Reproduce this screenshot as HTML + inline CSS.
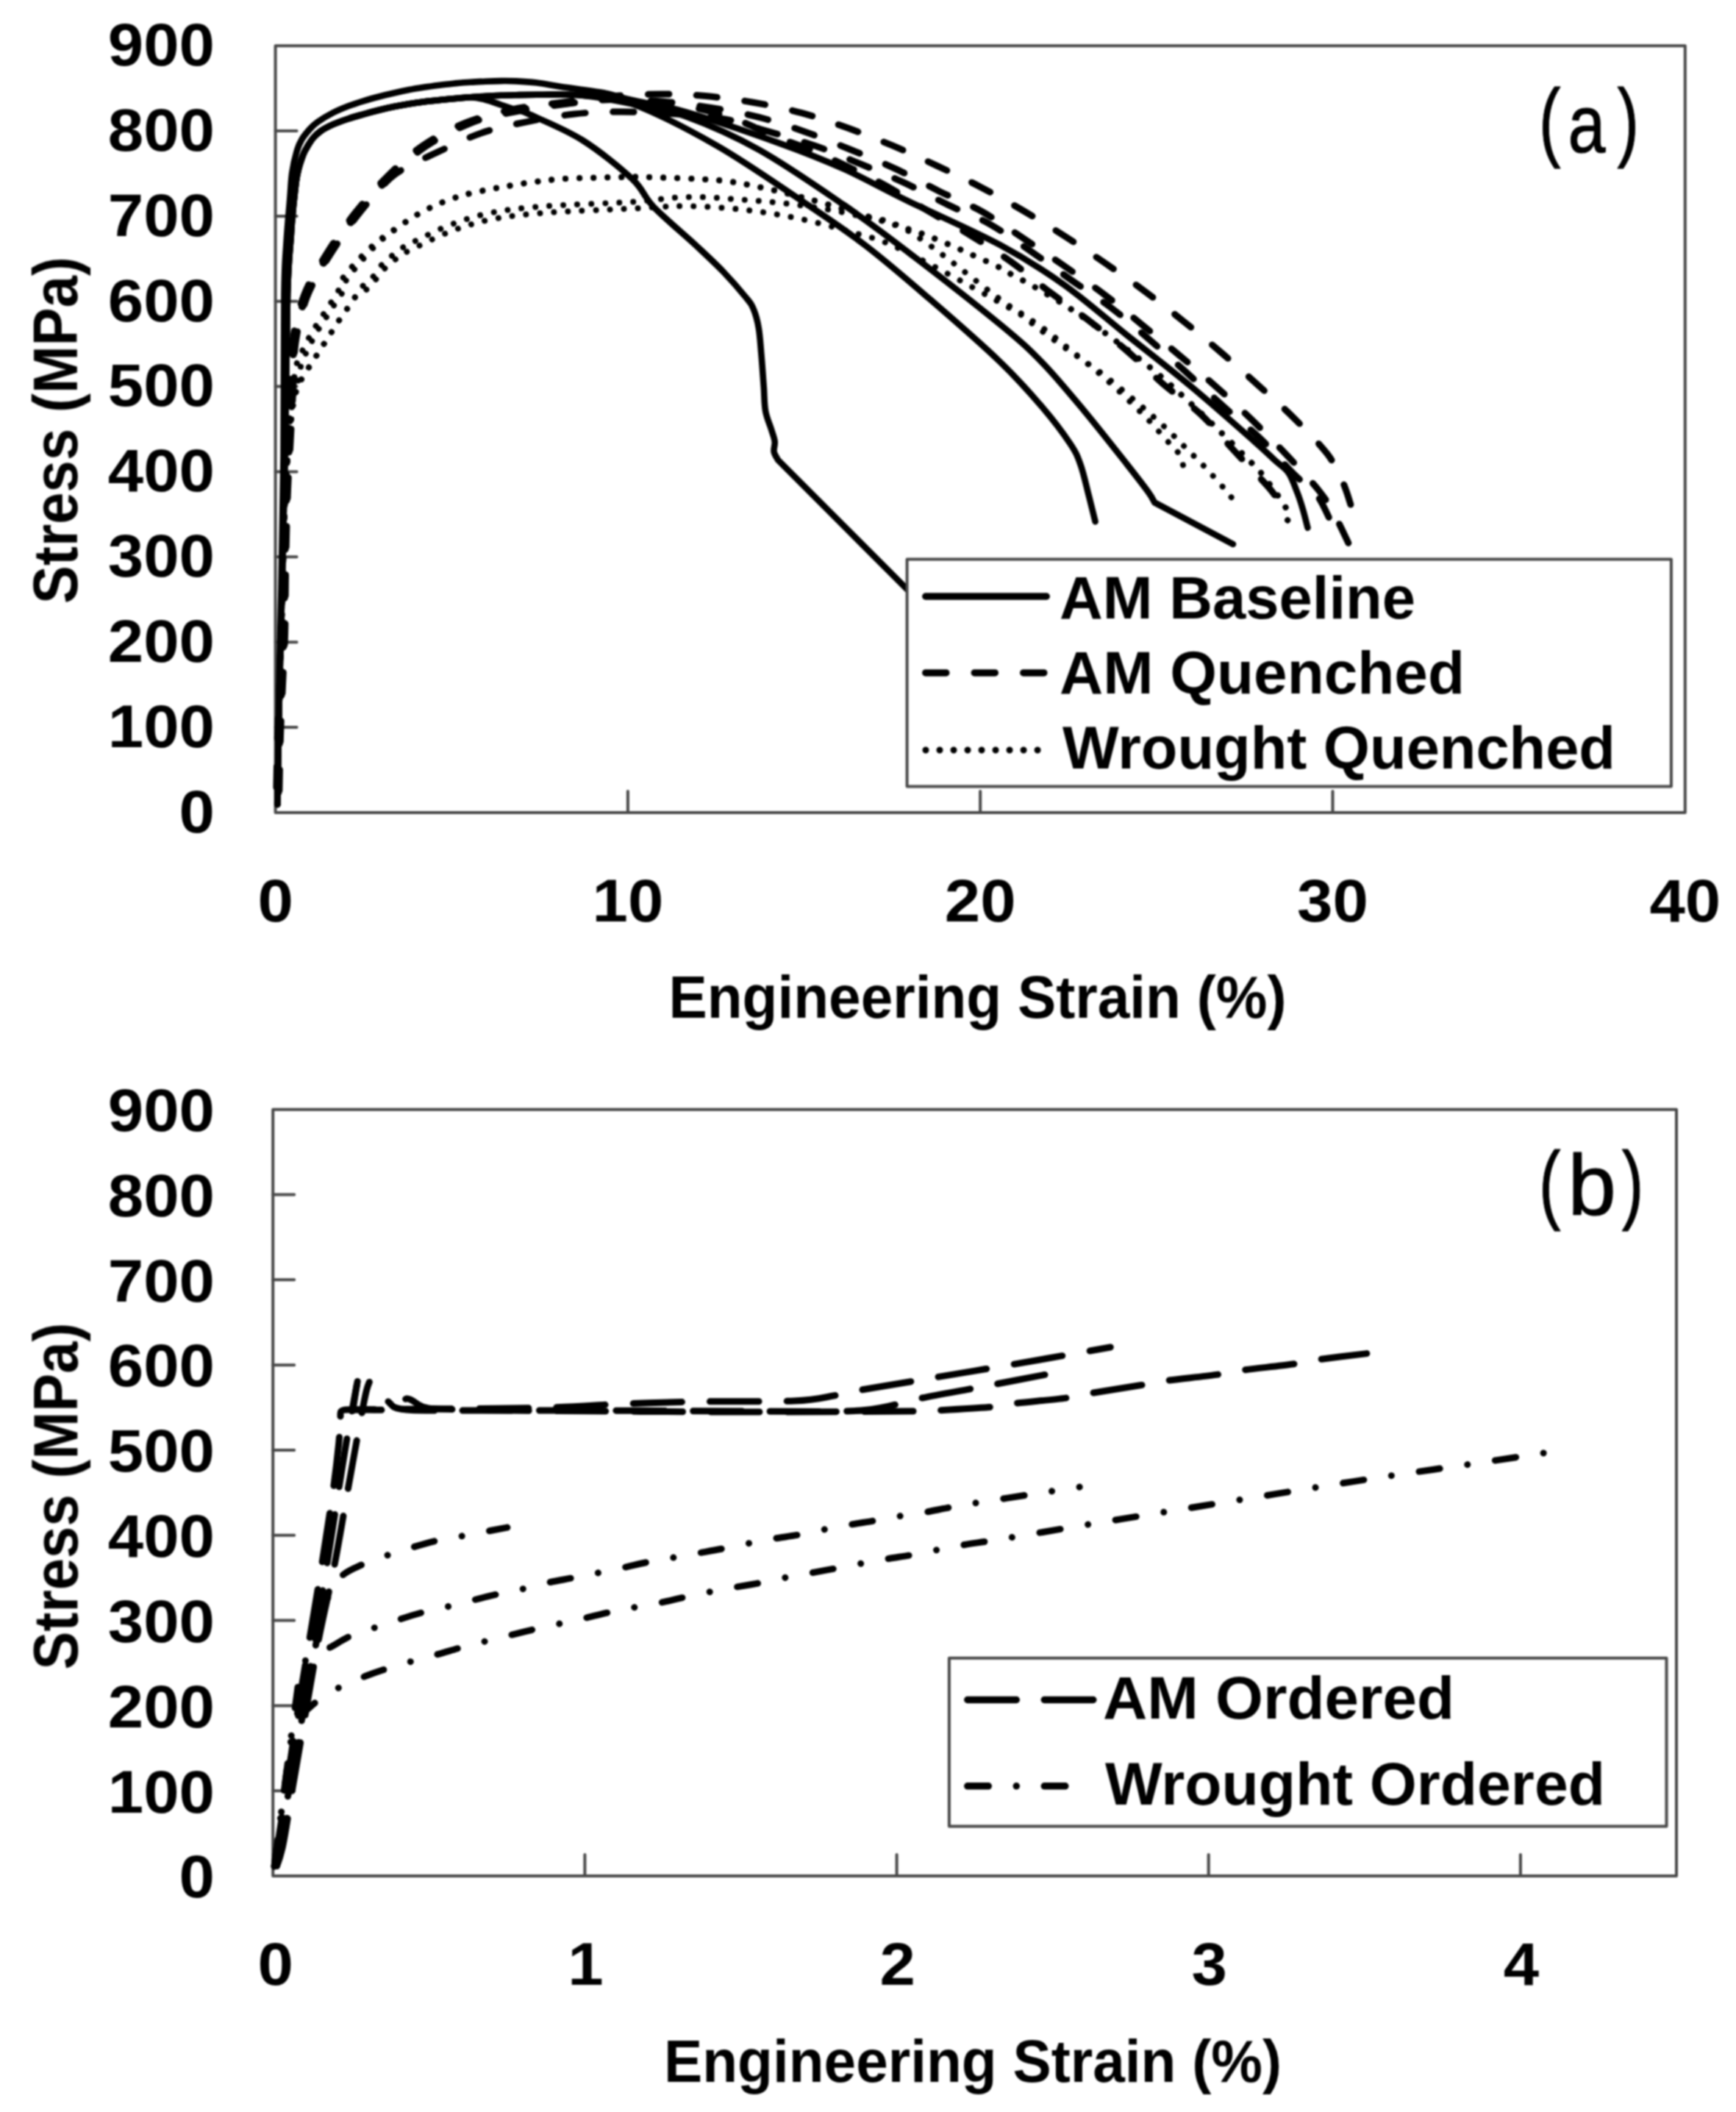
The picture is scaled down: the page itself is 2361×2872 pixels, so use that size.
<!DOCTYPE html>
<html lang="en"><head><meta charset="utf-8"><title>Engineering stress-strain curves</title>
<style>html,body{margin:0;padding:0;background:#fff}body{width:2361px;height:2872px;overflow:hidden}svg{display:block}text{font-family:"Liberation Sans",sans-serif;fill:#000}</style>
</head><body>
<svg width="2361" height="2872" viewBox="0 0 2361 2872">
<rect width="2361" height="2872" fill="#fff"/>
<defs><clipPath id="ca"><rect x="368.6" y="62.2" width="1923.2" height="1042.7"/></clipPath><clipPath id="cb"><rect x="365.2" y="1508.7" width="1914.8" height="1042.4"/></clipPath><filter id="soft" x="0" y="0" width="100%" height="100%" filterUnits="userSpaceOnUse" color-interpolation-filters="sRGB"><feGaussianBlur stdDeviation="0.95"/></filter></defs>
<g filter="url(#soft)">
<g id="chart-a">
<rect x="374.6" y="62.2" width="1917.2" height="1042.7" fill="none" stroke="#484848" stroke-width="4" stroke-linejoin="round"/><path d="M374.6 989.0 h29 M374.6 873.2 h29 M374.6 757.3 h29 M374.6 641.5 h29 M374.6 525.6 h29 M374.6 409.8 h29 M374.6 293.9 h29 M374.6 178.1 h29 M853.9 1104.9 v-29 M1333.2 1104.9 v-29 M1812.5 1104.9 v-29 " fill="none" stroke="#484848" stroke-width="4" stroke-linecap="round"/>
<g clip-path="url(#ca)"><path d="M377.5 1093.0 C377.8 1077.5 378.5 1032.2 379.2 1000.0 C379.9 967.8 380.6 933.3 381.5 900.0 C382.4 866.7 383.6 833.3 384.5 800.0 C385.4 766.7 385.9 730.0 387.0 700.0 C388.1 670.0 389.5 643.3 391.0 620.0 C392.5 596.7 394.3 575.0 396.0 560.0 C397.7 545.0 399.2 537.6 401.0 530.0 C402.8 522.4 405.1 520.1 406.5 514.5 C407.9 508.9 407.8 502.4 409.5 496.5 C411.2 490.6 414.2 484.8 416.8 479.0 C419.4 473.2 422.4 467.3 425.3 461.8 C428.2 456.3 431.2 451.2 434.4 445.9 C437.6 440.6 441.3 435.3 444.7 430.0 C448.1 424.7 451.4 419.4 454.9 414.1 C458.4 408.8 462.8 403.5 465.5 398.0 C468.2 392.5 468.1 386.5 470.9 381.1 C473.7 375.8 478.6 370.7 482.4 365.9 C486.2 361.1 489.8 357.0 493.9 352.3 C498.0 347.6 502.3 342.5 506.9 337.9 C511.5 333.2 511.2 332.1 521.3 324.4 C531.4 316.7 552.6 300.6 567.4 291.9 C582.2 283.2 595.1 277.4 610.0 272.0 C624.9 266.6 633.5 263.9 656.7 259.3 C679.9 254.7 718.2 247.7 749.4 244.6 C780.6 241.5 821.9 241.5 843.9 240.9 C865.9 240.3 859.5 240.2 881.6 240.9 C903.7 241.6 951.4 242.9 976.6 245.2 C1001.8 247.4 1014.3 250.7 1032.8 254.4 C1051.3 258.1 1068.0 262.3 1087.5 267.4 C1107.0 272.5 1128.6 278.7 1150.0 285.0 C1171.4 291.3 1198.8 300.1 1215.7 305.4 C1232.7 310.7 1239.7 312.6 1251.7 316.9 C1263.7 321.2 1275.9 326.4 1287.7 331.3 C1299.5 336.2 1310.8 341.4 1322.3 346.6 C1333.8 351.8 1348.6 358.3 1356.8 362.4 C1365.0 366.4 1363.3 366.4 1371.5 370.9 C1379.7 375.4 1392.4 381.7 1406.1 389.6 C1419.8 397.5 1437.8 408.1 1453.6 418.4 C1469.4 428.7 1483.1 438.3 1501.1 451.5 C1519.1 464.7 1544.3 483.7 1561.6 497.6 C1578.9 511.5 1588.5 520.2 1604.8 535.1 C1621.1 550.0 1643.7 571.5 1659.5 586.9 C1675.3 602.2 1691.0 618.3 1699.9 627.2 C1708.8 636.1 1705.1 630.4 1712.8 640.2 C1720.5 650.0 1739.7 675.4 1746.3 686.2 C1752.9 697.0 1753.0 700.4 1752.3 705.0 C1751.5 709.6 1743.5 712.5 1741.8 714.0" fill="none" stroke="#000" stroke-width="8" stroke-linecap="round" stroke-linejoin="round" stroke-dasharray="0.01 19" stroke-dashoffset="11.9"/><path d="M377.5 1093.0 C377.8 1077.5 378.5 1032.2 379.2 1000.0 C379.9 967.8 380.6 933.3 381.5 900.0 C382.4 866.7 383.6 833.3 384.5 800.0 C385.4 766.7 385.9 730.0 387.0 700.0 C388.1 670.0 389.9 643.3 391.0 620.0 C392.1 596.7 393.1 575.0 393.8 560.0 C394.6 545.0 394.6 537.6 395.6 530.0 C396.6 522.4 398.8 520.1 400.0 514.5 C401.2 508.9 401.3 502.4 403.0 496.5 C404.7 490.6 407.7 484.8 410.3 479.0 C412.9 473.2 415.9 467.3 418.8 461.8 C421.7 456.3 424.7 451.2 427.9 445.9 C431.1 440.6 434.8 435.3 438.2 430.0 C441.6 424.7 444.9 419.4 448.4 414.1 C451.9 408.8 456.3 403.5 459.0 398.0 C461.7 392.5 461.6 386.5 464.4 381.1 C467.2 375.8 471.9 370.7 475.9 365.9 C479.9 361.1 483.8 357.0 488.2 352.3 C492.7 347.6 497.7 342.5 502.8 337.9 C507.9 333.2 507.9 332.1 518.7 324.4 C529.4 316.7 552.2 300.6 567.4 291.9 C582.6 283.2 595.1 277.4 610.0 272.0 C624.9 266.6 633.5 263.9 656.7 259.3 C679.9 254.7 718.2 247.7 749.4 244.6 C780.6 241.5 821.9 241.5 843.9 240.9 C865.9 240.3 859.5 240.2 881.6 240.9 C903.7 241.6 951.4 242.9 976.6 245.2 C1001.8 247.4 1014.3 250.7 1032.8 254.4 C1051.3 258.1 1068.0 262.3 1087.5 267.4 C1107.0 272.5 1128.6 278.7 1150.0 285.0 C1171.4 291.3 1198.8 300.1 1215.7 305.4 C1232.7 310.7 1239.7 312.6 1251.7 316.9 C1263.7 321.2 1275.9 326.4 1287.7 331.3 C1299.5 336.2 1310.8 341.4 1322.3 346.6 C1333.8 351.8 1348.6 358.3 1356.8 362.4 C1365.0 366.4 1363.3 366.4 1371.5 370.9 C1379.7 375.4 1392.4 381.7 1406.1 389.6 C1419.8 397.5 1437.8 408.1 1453.6 418.4 C1469.4 428.7 1483.1 438.3 1501.1 451.5 C1519.1 464.7 1544.3 483.7 1561.6 497.6 C1578.9 511.5 1588.5 520.2 1604.8 535.1 C1621.1 550.0 1643.7 571.5 1659.5 586.9 C1675.3 602.2 1691.0 618.3 1699.9 627.2 C1708.8 636.1 1705.1 630.4 1712.8 640.2 C1720.5 650.0 1739.7 675.4 1746.3 686.2 C1752.9 697.0 1753.0 700.4 1752.3 705.0 C1751.5 709.6 1743.5 712.5 1741.8 714.0" fill="none" stroke="#000" stroke-width="8" stroke-linecap="round" stroke-linejoin="round" stroke-dasharray="0.01 19" stroke-dashoffset="7.9"/><path d="M377.5 1093.0 C377.8 1077.5 378.5 1032.2 379.2 1000.0 C379.9 967.8 380.6 933.3 381.5 900.0 C382.4 866.7 383.6 833.3 384.5 800.0 C385.4 766.7 385.8 730.0 387.0 700.0 C388.2 670.0 389.7 644.2 391.5 620.0 C393.3 595.8 395.9 570.3 398.0 555.0 C400.1 539.7 401.8 534.8 404.0 528.0 C406.2 521.2 408.3 518.8 411.0 514.0 C413.7 509.2 416.9 504.4 420.2 499.3 C423.4 494.2 427.1 488.7 430.5 483.4 C433.9 478.1 437.3 472.8 440.7 467.5 C444.1 462.2 447.5 456.9 450.9 451.6 C454.3 446.3 457.6 440.9 461.1 435.7 C464.6 430.5 468.3 425.5 471.9 420.3 C475.5 415.1 479.0 409.7 482.7 404.4 C486.4 399.1 489.9 392.9 493.9 388.3 C497.9 383.7 502.8 381.4 506.9 376.8 C511.0 372.2 514.1 365.8 518.4 361.0 C522.7 356.2 528.2 351.9 532.8 348.0 C537.4 344.1 541.0 341.0 545.8 337.9 C550.6 334.8 550.3 334.7 561.6 329.3 C572.9 323.9 595.5 312.1 613.5 305.4 C631.5 298.7 648.0 293.2 669.6 289.0 C691.2 284.8 711.3 282.7 743.0 280.3 C774.7 277.9 827.9 276.7 860.0 274.6 C892.1 272.5 910.3 268.4 935.5 267.9 C960.7 267.5 986.1 269.9 1011.2 271.7 C1036.3 273.5 1061.1 275.5 1086.1 278.9 C1111.1 282.3 1136.3 286.1 1161.0 291.9 C1185.7 297.6 1201.3 294.3 1234.4 313.5 C1267.6 332.6 1334.0 388.0 1360.0 406.9 C1386.0 425.8 1379.9 420.1 1390.2 427.1 C1400.6 434.0 1411.6 441.0 1421.9 448.7 C1432.2 456.3 1442.3 465.2 1452.2 473.1 C1462.0 481.1 1471.4 488.3 1481.0 496.2 C1490.6 504.1 1500.2 512.0 1509.8 520.7 C1519.4 529.3 1529.5 539.1 1538.6 548.0 C1547.7 556.9 1555.9 564.8 1564.5 573.9 C1573.1 583.1 1583.9 595.5 1590.4 602.7 C1596.9 609.9 1600.3 612.1 1603.4 617.1 C1606.5 622.2 1608.2 630.3 1609.1 633.0" fill="none" stroke="#000" stroke-width="8" stroke-linecap="round" stroke-linejoin="round" stroke-dasharray="0.01 19" stroke-dashoffset="9.3"/><path d="M377.5 1093.0 C377.8 1077.5 378.5 1032.2 379.2 1000.0 C379.9 967.8 380.6 933.3 381.5 900.0 C382.4 866.7 383.6 833.3 384.5 800.0 C385.4 766.7 385.8 730.0 387.0 700.0 C388.2 670.0 389.7 644.2 391.5 620.0 C393.3 595.8 395.9 570.3 398.0 555.0 C400.1 539.7 401.8 534.8 404.0 528.0 C406.2 521.2 408.3 518.8 411.0 514.0 C413.7 509.2 416.9 504.4 420.2 499.3 C423.4 494.2 427.1 488.7 430.5 483.4 C433.9 478.1 437.3 472.8 440.7 467.5 C444.1 462.2 447.5 456.9 450.9 451.6 C454.3 446.3 457.6 440.9 461.1 435.7 C464.6 430.5 468.3 425.5 471.9 420.3 C475.5 415.1 479.0 408.2 482.7 404.4 C486.4 400.6 489.9 400.4 493.9 397.3 C497.9 394.2 502.8 390.4 506.9 385.8 C511.0 381.2 514.1 374.8 518.4 370.0 C522.7 365.2 528.2 360.9 532.8 357.0 C537.4 353.1 541.0 350.0 545.8 346.9 C550.6 343.8 550.3 343.7 561.6 338.3 C572.9 332.9 595.5 321.1 613.5 314.4 C631.5 307.7 648.0 302.2 669.6 298.0 C691.2 293.8 711.3 291.7 743.0 289.3 C774.7 286.9 828.7 285.1 860.0 283.6 C891.3 282.1 906.2 280.2 930.6 280.3 C955.0 280.5 981.2 282.0 1006.3 284.7 C1031.4 287.3 1056.4 291.1 1081.2 296.2 C1106.0 301.2 1131.1 307.7 1155.2 314.9 C1179.3 322.1 1188.8 321.6 1225.8 339.4 C1262.8 357.1 1346.8 403.8 1377.3 421.3 C1407.8 438.8 1398.4 436.7 1409.0 444.3 C1419.5 452.0 1430.6 460.2 1440.6 467.4 C1450.7 474.6 1459.8 480.8 1469.4 487.5 C1479.0 494.3 1488.4 500.3 1498.2 507.7 C1508.1 515.1 1518.7 524.0 1528.5 532.2 C1538.3 540.3 1547.7 548.3 1557.3 556.7 C1566.9 565.1 1576.7 573.7 1586.1 582.6 C1595.5 591.5 1604.6 601.1 1613.5 609.9 C1622.3 618.8 1630.7 626.7 1639.4 635.9 C1648.0 645.0 1659.1 657.5 1665.3 664.7 C1671.5 671.9 1674.9 676.7 1676.8 679.1" fill="none" stroke="#000" stroke-width="8" stroke-linecap="round" stroke-linejoin="round" stroke-dasharray="0.01 19" stroke-dashoffset="9.3"/><path d="M375.5 1091.7 C375.8 1076.2 376.7 1025.9 377.5 998.7 C378.3 971.5 379.5 952.0 380.5 928.7 C381.5 905.4 383.0 882.0 383.6 858.7 C384.2 835.4 384.1 810.4 384.4 788.7 C384.7 767.0 385.0 749.7 385.5 728.7 C386.0 707.7 386.6 684.4 387.5 662.7 C388.4 641.0 389.8 620.7 391.0 598.7 C392.2 576.7 393.3 553.2 394.5 530.7 C395.7 508.2 394.8 485.3 398.0 463.7 C401.2 442.1 405.9 420.9 413.6 401.1 C421.3 381.3 432.9 363.2 444.4 344.7 C455.9 326.2 468.8 307.4 482.6 289.9 C496.4 272.3 511.7 254.8 527.2 239.4 C542.7 224.0 557.5 209.8 575.4 197.6 C593.3 185.4 614.0 174.7 634.5 166.5 C655.0 158.3 676.7 153.1 698.4 148.5 C720.1 143.9 742.8 142.1 764.7 139.2 C786.6 136.3 807.5 132.9 830.0 131.0 C852.5 129.1 878.4 128.1 900.0 128.0 C921.6 127.9 938.7 128.7 959.4 130.6 C980.1 132.5 1002.4 135.4 1024.2 139.2 C1046.0 143.0 1069.1 147.8 1090.4 153.6 C1111.8 159.4 1131.7 166.4 1152.3 173.8 C1172.9 181.2 1193.9 189.6 1214.3 198.2 C1234.7 206.8 1254.8 216.2 1274.7 225.6 C1294.6 235.0 1314.3 244.2 1333.8 254.4 C1353.3 264.6 1372.7 275.4 1391.7 286.5 C1410.7 297.6 1429.2 309.1 1447.8 321.0 C1466.4 332.9 1484.8 345.3 1503.1 357.9 C1521.4 370.5 1540.0 383.5 1557.9 396.8 C1575.8 410.1 1593.4 423.9 1610.6 437.7 C1627.8 451.5 1644.2 465.1 1661.0 479.5 C1677.8 493.9 1695.0 509.3 1711.4 524.1 C1727.8 538.9 1743.9 552.7 1759.5 568.2 C1775.1 583.7 1793.9 602.6 1805.0 617.1 C1816.1 631.6 1820.4 642.7 1826.0 655.0 C1831.6 667.3 1836.3 684.8 1838.4 690.7" fill="none" stroke="#000" stroke-width="9" stroke-linecap="round" stroke-linejoin="round" stroke-dasharray="28.3 37.6" stroke-dashoffset="44.7"/><path d="M377.5 1093.0 C377.8 1077.5 378.7 1027.2 379.5 1000.0 C380.3 972.8 381.5 953.3 382.5 930.0 C383.5 906.7 385.0 883.3 385.6 860.0 C386.2 836.7 386.1 811.7 386.4 790.0 C386.7 768.3 387.0 751.0 387.5 730.0 C388.0 709.0 388.6 685.7 389.5 664.0 C390.4 642.3 391.8 622.0 393.0 600.0 C394.2 578.0 395.3 554.5 396.5 532.0 C397.7 509.5 396.8 486.6 400.0 465.0 C403.2 443.4 407.9 422.2 415.6 402.4 C423.3 382.6 434.9 364.5 446.4 346.0 C457.9 327.5 470.8 308.8 484.6 291.2 C498.4 273.6 513.7 256.1 529.2 240.7 C544.7 225.3 559.5 211.1 577.4 198.9 C595.3 186.8 616.1 175.6 636.5 167.8 C656.9 160.0 678.6 156.3 700.0 152.0 C721.4 147.7 743.0 144.8 764.7 142.0 C786.4 139.2 807.5 135.7 830.0 135.0 C852.5 134.3 877.2 136.1 900.0 138.0 C922.8 139.9 944.6 142.8 966.6 146.4 C988.6 150.0 1010.6 153.9 1032.1 159.4 C1053.6 164.9 1074.5 172.1 1095.5 179.5 C1116.5 186.9 1137.6 195.6 1158.1 204.0 C1178.6 212.4 1198.7 220.5 1218.6 229.9 C1238.5 239.3 1258.2 250.6 1277.6 260.2 C1297.0 269.8 1316.2 276.9 1335.2 287.5 C1354.2 298.1 1373.1 311.7 1391.7 324.0 C1410.3 336.3 1428.7 348.7 1447.0 361.4 C1465.3 374.1 1484.0 387.0 1501.7 400.3 C1519.4 413.6 1536.0 427.6 1553.0 441.4 C1570.0 455.2 1587.1 469.0 1604.0 483.2 C1620.9 497.4 1637.9 511.7 1654.4 526.4 C1671.0 541.1 1687.3 556.1 1703.3 571.6 C1719.3 587.1 1735.2 603.2 1750.3 619.2 C1765.4 635.2 1783.2 654.0 1794.0 667.5 C1804.8 681.0 1808.2 687.9 1815.0 700.0 C1821.8 712.1 1831.4 733.5 1834.7 740.2" fill="none" stroke="#000" stroke-width="9" stroke-linecap="round" stroke-linejoin="round" stroke-dasharray="28.3 38.1" stroke-dashoffset="53.0"/><path d="M379.5 1094.3 C379.8 1078.8 380.7 1028.5 381.5 1001.3 C382.3 974.1 383.5 954.6 384.5 931.3 C385.5 908.0 387.0 884.6 387.6 861.3 C388.2 838.0 388.1 813.0 388.4 791.3 C388.7 769.6 389.0 752.3 389.5 731.3 C390.0 710.3 390.6 687.0 391.5 665.3 C392.4 643.6 393.8 623.3 395.0 601.3 C396.2 579.3 397.3 555.8 398.5 533.3 C399.7 510.8 398.8 487.9 402.0 466.3 C405.2 444.7 409.9 423.5 417.6 403.7 C425.3 383.9 436.9 365.8 448.4 347.3 C459.9 328.8 472.8 310.1 486.6 292.5 C500.4 274.9 518.6 253.5 531.2 242.0 C543.8 230.5 551.5 229.1 562.0 223.3 C572.5 217.5 578.5 214.5 593.9 207.4 C609.3 200.3 634.2 187.8 654.5 180.9 C674.8 174.0 694.6 170.1 715.7 165.8 C736.8 161.5 759.8 157.3 781.3 155.0 C802.8 152.7 821.9 152.0 845.0 152.0 C868.1 152.0 896.4 153.3 920.0 155.0 C943.6 156.7 967.9 158.8 986.7 162.2 C1005.5 165.6 1012.5 169.2 1032.8 175.2 C1053.1 181.2 1085.6 190.3 1108.4 198.2 C1131.2 206.1 1149.3 214.3 1169.6 222.7 C1189.9 231.1 1210.0 239.3 1230.1 248.7 C1250.2 258.1 1270.7 269.5 1290.0 278.9 C1309.3 288.2 1327.2 294.1 1346.2 304.8 C1365.2 315.5 1385.2 330.2 1403.8 343.0 C1422.4 355.8 1439.9 368.8 1457.9 381.5 C1475.9 394.2 1494.3 405.6 1511.8 419.0 C1529.3 432.4 1545.8 446.8 1563.0 461.6 C1580.2 476.4 1597.9 492.3 1614.9 507.7 C1632.0 523.1 1648.7 538.9 1665.3 553.8 C1681.9 568.7 1699.0 581.8 1714.8 597.0 C1730.6 612.2 1747.5 632.5 1760.0 645.0 C1772.5 657.5 1782.0 662.1 1790.0 672.0 C1798.0 681.9 1804.8 698.8 1807.7 704.2" fill="none" stroke="#000" stroke-width="9" stroke-linecap="round" stroke-linejoin="round" stroke-dasharray="28.3 37.95" stroke-dashoffset="46.8"/><path d="M378.5 1093.7 C378.8 1078.2 379.7 1027.9 380.5 1000.7 C381.3 973.5 382.5 954.0 383.5 930.7 C384.5 907.4 386.0 884.0 386.6 860.7 C387.2 837.4 387.1 812.4 387.4 790.7 C387.7 769.0 388.0 751.7 388.5 730.7 C389.0 709.7 389.6 686.4 390.5 664.7 C391.4 643.0 392.8 622.7 394.0 600.7 C395.2 578.7 396.3 555.2 397.5 532.7 C398.7 510.2 397.8 487.3 401.0 465.7 C404.2 444.1 408.9 422.9 416.6 403.1 C424.3 383.3 435.9 365.2 447.4 346.7 C458.9 328.2 471.8 309.4 485.6 291.9 C499.4 274.3 514.7 256.8 530.2 241.4 C545.7 226.0 560.5 211.8 578.4 199.6 C596.3 187.4 617.5 176.7 637.5 168.5 C657.5 160.3 677.2 155.0 698.4 150.5 C719.6 146.0 742.8 144.0 764.7 141.5 C786.6 139.0 807.5 135.9 830.0 135.5 C852.5 135.1 878.3 136.6 900.0 139.0 C921.7 141.4 941.7 145.5 960.0 150.0 C978.3 154.5 995.0 160.3 1010.0 166.0 C1025.0 171.7 1033.6 177.3 1050.0 184.0 C1066.4 190.7 1090.1 198.3 1108.4 206.0 C1126.7 213.7 1143.8 222.2 1160.0 230.0 C1176.2 237.8 1188.4 243.4 1205.6 253.0 C1222.8 262.6 1244.0 276.2 1263.2 287.5 C1282.4 298.8 1302.0 309.1 1320.8 320.6 C1339.6 332.1 1357.8 343.6 1375.8 356.5 C1393.8 369.4 1411.3 384.8 1429.1 398.2 C1446.9 411.6 1465.4 424.1 1482.4 437.1 C1499.5 450.1 1514.8 461.8 1531.4 476.0 C1548.0 490.2 1564.8 507.5 1581.8 522.1 C1598.8 536.8 1617.5 548.8 1633.6 563.9 C1649.7 579.0 1662.9 596.2 1678.3 612.8 C1693.7 629.3 1715.0 650.7 1725.8 663.2 C1736.6 675.7 1740.1 683.9 1743.0 688.0" fill="none" stroke="#000" stroke-width="9" stroke-linecap="round" stroke-linejoin="round" stroke-dasharray="28.3 37.9" stroke-dashoffset="50.3"/><path d="M377.2 1094.0 C377.6 1070.0 378.4 999.0 379.3 950.0 C380.2 901.0 381.5 855.0 382.5 800.0 C383.5 745.0 384.8 686.7 385.5 620.0 C386.2 553.3 385.8 448.3 386.5 400.0 C387.2 351.7 388.2 351.7 389.5 330.0 C390.8 308.3 393.0 285.8 394.3 270.0 C395.6 254.2 395.7 245.8 397.2 235.2 C398.7 224.5 401.3 213.7 403.5 206.1 C405.7 198.5 407.4 194.7 410.5 189.5 C413.6 184.3 418.2 179.0 421.8 175.0 C425.4 171.0 427.0 169.3 432.2 165.7 C437.4 162.1 446.1 156.9 453.0 153.3 C459.9 149.7 466.8 147.0 473.7 144.3 C480.6 141.6 487.5 139.4 494.4 137.3 C501.3 135.2 508.3 133.3 515.2 131.5 C522.1 129.7 529.0 128.1 535.9 126.5 C542.8 124.9 549.7 123.4 556.6 122.1 C563.5 120.8 570.5 119.7 577.4 118.6 C584.3 117.5 591.2 116.6 598.1 115.7 C605.0 114.8 612.0 114.1 618.9 113.4 C625.8 112.8 632.7 112.2 639.6 111.8 C646.5 111.3 653.4 111.0 660.3 110.7 C667.2 110.4 674.2 110.1 681.1 110.1 C688.0 110.0 693.6 110.0 701.8 110.4 C709.9 110.8 719.8 111.4 730.0 112.6 C740.2 113.8 748.1 115.6 763.2 117.9 C778.4 120.2 804.7 123.2 820.8 126.2 C837.0 129.3 841.5 132.0 860.0 136.3 C878.5 140.6 898.4 142.3 932.0 152.2 C965.6 162.0 1025.6 182.4 1061.6 195.4 C1097.6 208.3 1119.2 217.0 1148.0 229.9 C1176.8 242.9 1199.1 256.0 1234.4 273.1 C1269.8 290.3 1324.7 314.1 1360.0 333.0 C1395.3 351.9 1417.6 366.3 1446.4 386.7 C1475.2 407.2 1504.0 432.8 1532.8 455.9 C1561.6 478.9 1590.4 501.0 1619.2 525.0 C1648.0 549.0 1686.4 583.0 1705.6 599.9 C1724.8 616.8 1726.6 619.2 1734.4 626.4 C1742.2 633.5 1747.3 635.6 1752.3 642.8 C1757.3 650.0 1761.1 661.5 1764.3 669.8 C1767.6 678.0 1769.4 684.2 1771.8 692.2 C1774.2 700.2 1777.4 713.5 1778.5 717.7" fill="none" stroke="#000" stroke-width="8.6" stroke-linecap="round" stroke-linejoin="round"/><path d="M377.4 1094.0 C377.8 1070.0 378.8 999.0 379.8 950.0 C380.8 901.0 382.2 855.0 383.5 800.0 C384.8 745.0 386.2 686.7 387.5 620.0 C388.8 553.3 389.6 450.0 391.0 400.0 C392.4 350.0 394.7 338.0 395.8 320.0 C396.9 302.0 397.1 300.7 397.9 292.0 C398.6 283.3 399.4 275.9 400.3 268.0 C401.2 260.1 402.1 251.2 403.1 244.7 C404.1 238.2 405.1 233.7 406.3 229.0 C407.5 224.3 408.9 220.0 410.2 216.3 C411.4 212.6 412.6 209.7 413.8 207.0 C415.1 204.3 415.7 203.2 417.7 199.9 C419.7 196.7 422.9 191.1 426.0 187.5 C429.1 183.9 431.9 181.2 436.4 178.1 C440.9 175.0 446.8 172.0 453.0 169.2 C459.2 166.4 466.8 163.8 473.7 161.5 C480.6 159.2 487.5 157.3 494.4 155.3 C501.3 153.3 508.3 151.4 515.2 149.7 C522.1 148.0 529.0 146.4 535.9 145.0 C542.8 143.6 549.7 142.3 556.6 141.2 C563.5 140.1 570.5 139.2 577.4 138.3 C584.3 137.4 591.2 136.7 598.1 136.0 C605.0 135.3 612.0 134.6 618.9 134.0 C625.8 133.4 632.7 132.8 639.6 132.3 C646.5 131.8 653.4 131.3 660.3 130.9 C667.2 130.5 674.2 130.1 681.1 129.8 C688.0 129.5 692.9 129.4 701.8 129.2 C710.7 129.0 719.4 128.7 734.4 128.8 C749.4 128.9 771.1 127.6 792.0 129.7 C813.0 131.8 836.7 136.5 860.0 141.2 C883.3 145.9 903.2 147.5 932.0 157.9 C960.8 168.4 996.8 183.8 1032.8 204.0 C1068.8 224.2 1114.4 255.9 1148.0 278.9 C1181.6 301.9 1199.1 315.2 1234.4 342.3 C1269.8 369.3 1329.5 415.8 1360.0 441.0 C1390.5 466.2 1398.4 473.5 1417.6 493.3 C1436.8 513.1 1456.0 536.5 1475.2 559.5 C1494.4 582.6 1518.4 613.3 1532.8 631.5 C1547.2 649.8 1555.4 660.3 1561.6 669.0 C1567.9 677.6 1568.8 681.0 1570.3 683.4 L1677.0 740.0" fill="none" stroke="#000" stroke-width="8.6" stroke-linecap="round" stroke-linejoin="round"/><path d="M377.4 1094.0 C377.8 1070.0 378.8 999.0 379.8 950.0 C380.8 901.0 382.2 855.0 383.5 800.0 C384.8 745.0 386.2 686.7 387.5 620.0 C388.8 553.3 389.6 450.0 391.0 400.0 C392.4 350.0 394.7 338.0 395.8 320.0 C396.9 302.0 397.1 300.7 397.9 292.0 C398.6 283.3 399.4 275.9 400.3 268.0 C401.2 260.1 402.1 251.2 403.1 244.7 C404.1 238.2 405.1 233.7 406.3 229.0 C407.5 224.3 408.9 220.0 410.2 216.3 C411.4 212.6 412.6 209.7 413.8 207.0 C415.1 204.3 415.7 203.2 417.7 199.9 C419.7 196.7 422.9 191.1 426.0 187.5 C429.1 183.9 431.9 181.2 436.4 178.1 C440.9 175.0 446.8 172.0 453.0 169.2 C459.2 166.4 466.8 163.8 473.7 161.5 C480.6 159.2 487.5 157.3 494.4 155.3 C501.3 153.3 508.3 151.4 515.2 149.7 C522.1 148.0 529.0 146.4 535.9 145.0 C542.8 143.6 549.7 142.3 556.6 141.2 C563.5 140.1 570.5 139.2 577.4 138.3 C584.3 137.4 591.2 136.7 598.1 136.0 C605.0 135.3 612.0 134.6 618.9 134.0 C625.8 133.4 632.7 132.8 639.6 132.3 C646.5 131.8 653.4 131.3 660.3 130.9 C667.2 130.5 674.2 130.1 681.1 129.8 C688.0 129.5 692.9 129.4 701.8 129.2 C710.7 129.0 719.4 128.7 734.4 128.8 C749.4 128.9 771.1 127.6 792.0 129.7 C813.0 131.8 829.5 129.8 860.0 141.2 C890.5 152.6 936.8 176.3 975.2 198.2 C1013.6 220.2 1056.8 250.6 1090.4 273.1 C1124.0 295.7 1148.0 311.5 1176.8 333.6 C1205.6 355.7 1232.7 379.2 1263.2 405.6 C1293.8 432.0 1334.3 467.3 1360.0 492.0 C1385.7 516.7 1401.8 535.3 1417.6 553.8 C1433.4 572.2 1446.4 589.8 1455.0 602.7 C1463.7 615.7 1465.1 619.5 1469.4 631.5 C1473.8 643.5 1477.6 661.8 1481.0 674.7 C1484.3 687.7 1488.2 703.5 1489.6 709.3" fill="none" stroke="#000" stroke-width="8.6" stroke-linecap="round" stroke-linejoin="round"/><path d="M377.4 1094.0 C377.8 1070.0 378.8 999.0 379.8 950.0 C380.8 901.0 382.2 855.0 383.5 800.0 C384.8 745.0 386.2 686.7 387.5 620.0 C388.8 553.3 389.6 450.0 391.0 400.0 C392.4 350.0 394.7 338.0 395.8 320.0 C396.9 302.0 397.1 300.7 397.9 292.0 C398.6 283.3 399.4 275.9 400.3 268.0 C401.2 260.1 402.1 251.2 403.1 244.7 C404.1 238.2 405.1 233.7 406.3 229.0 C407.5 224.3 408.9 220.0 410.2 216.3 C411.4 212.6 412.6 209.7 413.8 207.0 C415.1 204.3 415.7 203.2 417.7 199.9 C419.7 196.7 422.9 191.1 426.0 187.5 C429.1 183.9 431.9 181.2 436.4 178.1 C440.9 175.0 446.8 172.0 453.0 169.2 C459.2 166.4 466.8 163.8 473.7 161.5 C480.6 159.2 487.5 157.3 494.4 155.3 C501.3 153.3 508.3 151.4 515.2 149.7 C522.1 148.0 529.0 146.4 535.9 145.0 C542.8 143.6 549.7 142.3 556.6 141.2 C563.5 140.1 570.5 139.2 577.4 138.3 C584.3 137.4 591.2 136.7 598.1 136.0 C605.0 135.3 612.0 134.6 618.9 134.0 C625.8 133.4 632.8 132.1 639.6 132.3 C646.5 132.6 653.1 133.8 660.0 135.5 C666.9 137.2 674.0 140.2 681.0 142.5 C688.0 144.8 695.3 147.3 701.8 149.5 C708.3 151.7 705.0 148.7 720.0 155.5 C735.0 162.3 768.7 175.8 792.0 190.5 C815.3 205.2 843.9 228.4 860.0 243.5 C876.1 258.6 874.4 266.2 888.8 281.2 C903.2 296.2 930.6 318.9 946.4 333.6 C962.2 348.4 972.5 357.8 983.8 369.6 C995.2 381.5 1007.7 396.1 1014.6 404.6 C1021.4 413.1 1022.1 413.8 1024.9 420.7 C1027.8 427.6 1030.1 436.1 1031.8 446.1 C1033.6 456.1 1034.1 467.2 1035.3 480.6 C1036.5 494.1 1037.8 513.7 1038.8 526.7 C1039.7 539.8 1039.3 549.4 1041.1 559.0 C1042.8 568.6 1047.0 577.4 1049.1 584.3 C1051.2 591.2 1053.2 595.5 1053.7 600.5 C1054.3 605.5 1051.8 610.1 1052.6 614.3 C1053.3 618.5 1057.4 623.9 1058.3 625.8 C1087.3 654.8 1198.7 766.3 1232.3 800.0 C1265.9 833.7 1255.4 823.3 1260.0 828.0" fill="none" stroke="#000" stroke-width="8.6" stroke-linecap="round" stroke-linejoin="round"/></g>
<rect x="1233.6" y="760.5" width="1039.3" height="309.1" fill="#fff" stroke="#484848" stroke-width="4" stroke-linejoin="round"/><path d="M1258.8 811 H1423.2" stroke="#000" stroke-width="9.5" stroke-linecap="round" fill="none"/><path d="M1258.8 914.9 H1423.2" stroke="#000" stroke-width="9.5" stroke-linecap="round" fill="none" stroke-dasharray="28 38.5"/><path d="M1259 1020 H1411.3" stroke="#000" stroke-width="9" stroke-linecap="round" fill="none" stroke-dasharray="0.01 19"/><text x="1441.0" y="840.5" font-size="81.4" text-anchor="start" font-weight="bold" textLength="484.0" lengthAdjust="spacingAndGlyphs" >AM Baseline</text><text x="1441.0" y="942.5" font-size="81.4" text-anchor="start" font-weight="bold" textLength="551.0" lengthAdjust="spacingAndGlyphs" >AM Quenched</text><text x="1445.0" y="1044.5" font-size="81.4" text-anchor="start" font-weight="bold" textLength="752.0" lengthAdjust="spacingAndGlyphs" >Wrought Quenched</text>
<text x="292.0" y="1131.6" font-size="81.4" text-anchor="end" font-weight="bold" textLength="48.4" lengthAdjust="spacingAndGlyphs" >0</text><text x="292.0" y="1015.7" font-size="81.4" text-anchor="end" font-weight="bold" textLength="145.2" lengthAdjust="spacingAndGlyphs" >100</text><text x="292.0" y="899.9" font-size="81.4" text-anchor="end" font-weight="bold" textLength="145.2" lengthAdjust="spacingAndGlyphs" >200</text><text x="292.0" y="784.0" font-size="81.4" text-anchor="end" font-weight="bold" textLength="145.2" lengthAdjust="spacingAndGlyphs" >300</text><text x="292.0" y="668.2" font-size="81.4" text-anchor="end" font-weight="bold" textLength="145.2" lengthAdjust="spacingAndGlyphs" >400</text><text x="292.0" y="552.3" font-size="81.4" text-anchor="end" font-weight="bold" textLength="145.2" lengthAdjust="spacingAndGlyphs" >500</text><text x="292.0" y="436.5" font-size="81.4" text-anchor="end" font-weight="bold" textLength="145.2" lengthAdjust="spacingAndGlyphs" >600</text><text x="292.0" y="320.6" font-size="81.4" text-anchor="end" font-weight="bold" textLength="145.2" lengthAdjust="spacingAndGlyphs" >700</text><text x="292.0" y="204.8" font-size="81.4" text-anchor="end" font-weight="bold" textLength="145.2" lengthAdjust="spacingAndGlyphs" >800</text><text x="292.0" y="88.9" font-size="81.4" text-anchor="end" font-weight="bold" textLength="145.2" lengthAdjust="spacingAndGlyphs" >900</text><text x="374.6" y="1252.5" font-size="81.4" text-anchor="middle" font-weight="bold" textLength="48.4" lengthAdjust="spacingAndGlyphs" >0</text><text x="853.9" y="1252.5" font-size="81.4" text-anchor="middle" font-weight="bold" textLength="96.8" lengthAdjust="spacingAndGlyphs" >10</text><text x="1333.2" y="1252.5" font-size="81.4" text-anchor="middle" font-weight="bold" textLength="96.8" lengthAdjust="spacingAndGlyphs" >20</text><text x="1812.5" y="1252.5" font-size="81.4" text-anchor="middle" font-weight="bold" textLength="96.8" lengthAdjust="spacingAndGlyphs" >30</text><text x="2291.8" y="1252.5" font-size="81.4" text-anchor="middle" font-weight="bold" textLength="96.8" lengthAdjust="spacingAndGlyphs" >40</text><text x="909.5" y="1384.3" font-size="81.4" text-anchor="start" font-weight="bold" textLength="840.0" lengthAdjust="spacingAndGlyphs" >Engineering Strain (%)</text><text x="104.8" y="821.0" font-size="84.6" text-anchor="start" font-weight="bold" textLength="472.0" lengthAdjust="spacingAndGlyphs" transform="rotate(-90 104.8 821.0)" >Stress (MPa)</text>
<text font-weight="normal" stroke="#000" stroke-width="1.2" stroke-linejoin="round"><tspan x="2092.9" y="203.8" font-size="119.4" textLength="29.5" lengthAdjust="spacingAndGlyphs">(</tspan><tspan x="2132.5" y="206.7" font-size="112.2" textLength="50.9" lengthAdjust="spacingAndGlyphs">a</tspan><tspan x="2199.5" y="203.8" font-size="119.4" textLength="29.5" lengthAdjust="spacingAndGlyphs">)</tspan></text>
</g>
<g id="chart-b">
<rect x="371.2" y="1508.7" width="1908.8" height="1042.4" fill="none" stroke="#484848" stroke-width="4" stroke-linejoin="round"/><path d="M371.2 2435.3 h29 M371.2 2319.5 h29 M371.2 2203.6 h29 M371.2 2087.8 h29 M371.2 1972.0 h29 M371.2 1856.2 h29 M371.2 1740.3 h29 M371.2 1624.5 h29 M795.4 2551.1 v-29 M1219.6 2551.1 v-29 M1643.7 2551.1 v-29 M2067.9 2551.1 v-29 " fill="none" stroke="#484848" stroke-width="4" stroke-linecap="round"/>
<g clip-path="url(#cb)"><path d="M373.0 2538.0 C376.2 2521.7 385.5 2474.7 392.0 2440.0 C398.5 2405.3 405.3 2365.8 412.0 2330.0 C418.7 2294.2 426.2 2251.7 432.0 2225.0 C437.8 2198.3 441.5 2183.7 447.0 2170.0 C452.5 2156.3 457.4 2149.9 465.2 2142.7 C473.0 2135.5 483.7 2131.7 494.0 2127.0 C504.3 2122.3 515.8 2118.7 527.1 2114.8 C538.4 2111.0 550.7 2107.2 561.7 2103.9 C572.8 2100.6 582.4 2097.7 593.4 2095.2 C604.4 2092.7 616.4 2091.1 627.9 2088.9 C639.4 2086.8 652.2 2084.3 662.5 2082.3 C672.8 2080.3 685.3 2078.0 689.9 2077.1" fill="none" stroke="#000" stroke-width="9" stroke-linecap="round" stroke-linejoin="round" stroke-dasharray="28.5 38 0.01 38" stroke-dashoffset="7.6"/><path d="M373.0 2538.0 C375.6 2517.8 384.0 2453.8 388.8 2417.0 C393.6 2380.2 398.5 2341.8 402.0 2317.0 C405.5 2292.2 406.3 2278.8 410.0 2268.0 C413.7 2257.2 417.7 2256.6 424.0 2252.0 C430.3 2247.4 439.1 2245.2 447.9 2240.7 C456.7 2236.2 466.4 2229.4 476.7 2224.8 C487.0 2220.2 498.6 2217.1 509.9 2213.3 C521.2 2209.5 533.4 2205.3 544.4 2201.8 C555.4 2198.3 565.1 2195.2 576.1 2192.3 C587.1 2189.4 598.8 2187.2 610.1 2184.5 C621.4 2181.8 632.7 2178.7 643.8 2175.9 C654.9 2173.1 665.6 2170.4 676.9 2167.8 C688.2 2165.2 700.0 2163.2 711.5 2160.6 C723.0 2158.0 734.7 2154.5 746.0 2152.0 C757.3 2149.5 768.0 2147.8 779.1 2145.6 C790.2 2143.4 801.0 2141.4 812.8 2139.0 C824.6 2136.6 839.0 2133.6 850.0 2131.2 C861.0 2128.8 867.8 2126.9 878.8 2124.7 C889.8 2122.5 903.7 2120.2 915.7 2118.1 C927.7 2115.9 939.7 2113.8 950.8 2111.8 C961.9 2109.8 971.3 2108.2 982.5 2106.0 C993.7 2103.8 1006.1 2101.1 1017.9 2098.8 C1029.7 2096.5 1041.9 2094.1 1053.0 2092.2 C1064.1 2090.3 1073.5 2089.3 1084.7 2087.3 C1095.9 2085.3 1108.1 2082.4 1119.9 2080.1 C1131.7 2077.8 1144.1 2075.5 1155.3 2073.5 C1166.5 2071.5 1175.8 2070.2 1187.0 2068.3 C1198.2 2066.4 1210.4 2063.9 1222.4 2061.9 C1234.4 2059.9 1247.9 2058.1 1259.0 2056.2 C1270.1 2054.3 1278.2 2052.4 1289.2 2050.4 C1300.2 2048.4 1306.7 2047.1 1325.2 2044.1 C1343.7 2041.1 1376.2 2036.2 1400.0 2032.5 C1423.8 2028.8 1456.8 2023.8 1468.2 2022.1" fill="none" stroke="#000" stroke-width="9" stroke-linecap="round" stroke-linejoin="round" stroke-dasharray="28.5 38 0.01 38" stroke-dashoffset="96.3"/><path d="M373.0 2538.0 C375.6 2517.8 384.5 2448.7 388.8 2417.0 C393.1 2385.3 396.1 2362.0 399.0 2348.0 C401.9 2334.0 402.9 2336.8 406.0 2333.0 C409.1 2329.2 412.9 2328.7 417.6 2325.0 C422.4 2321.3 426.7 2316.3 434.5 2311.0 C442.3 2305.7 453.9 2298.5 464.3 2293.2 C474.7 2287.9 486.3 2283.5 497.1 2279.3 C507.9 2275.2 518.0 2271.8 528.9 2268.3 C539.8 2264.8 551.5 2261.6 562.7 2258.4 C573.9 2255.2 585.2 2252.4 596.3 2249.3 C607.4 2246.2 618.3 2242.8 629.4 2239.8 C640.5 2236.8 651.8 2234.0 663.1 2231.2 C674.4 2228.4 685.9 2225.6 697.1 2222.8 C708.3 2220.1 719.0 2217.3 730.2 2214.7 C741.4 2212.1 752.9 2209.8 764.2 2207.3 C775.5 2204.8 786.5 2202.4 797.9 2199.8 C809.3 2197.2 821.1 2194.1 832.4 2191.7 C843.7 2189.3 854.2 2187.4 865.8 2185.2 C877.4 2183.0 890.5 2180.9 901.8 2178.6 C913.1 2176.3 922.5 2173.8 933.5 2171.4 C944.5 2169.0 956.3 2166.5 968.1 2164.2 C979.9 2161.9 992.8 2159.6 1004.1 2157.6 C1015.4 2155.6 1024.8 2154.2 1035.8 2152.1 C1046.8 2150.0 1058.5 2147.2 1070.3 2144.9 C1082.0 2142.6 1095.0 2140.4 1106.3 2138.3 C1117.6 2136.2 1127.0 2134.6 1138.0 2132.5 C1149.0 2130.4 1160.8 2128.1 1172.6 2125.9 C1184.4 2123.7 1197.3 2121.4 1208.6 2119.5 C1219.9 2117.6 1229.1 2116.4 1240.3 2114.4 C1251.5 2112.4 1264.0 2109.7 1275.7 2107.4 C1287.5 2105.1 1299.7 2102.7 1310.8 2100.8 C1321.9 2098.9 1331.2 2097.7 1342.5 2095.9 C1353.8 2094.1 1355.7 2093.9 1378.9 2090.1 C1402.1 2086.2 1447.3 2078.5 1481.5 2072.8 C1515.7 2067.1 1549.7 2061.7 1584.0 2056.1 C1618.3 2050.5 1652.8 2045.0 1687.1 2039.4 C1721.4 2033.8 1755.2 2028.2 1789.6 2022.7 C1824.0 2017.2 1858.9 2011.7 1893.3 2006.5 C1927.7 2001.3 1961.6 1996.7 1995.9 1991.6 C2030.2 1986.5 2081.5 1978.7 2099.0 1976.0 C2116.5 1973.3 2100.7 1975.8 2101.0 1975.7" fill="none" stroke="#000" stroke-width="9" stroke-linecap="round" stroke-linejoin="round" stroke-dasharray="28.5 38 0.01 38" stroke-dashoffset="0.5"/><path d="M371.2 2551.0 C373.2 2544.7 378.9 2532.5 383.0 2513.0 C387.1 2493.5 390.8 2464.0 395.6 2434.0 C400.4 2404.0 406.2 2367.2 411.7 2333.0 C417.2 2298.8 422.9 2262.9 428.4 2228.8 C433.9 2194.7 439.1 2162.2 444.5 2128.4 C449.9 2094.6 455.9 2055.8 460.6 2026.1 C465.3 1996.4 468.6 1975.0 472.9 1950.4 C477.2 1925.8 484.0 1890.4 486.2 1878.4" fill="none" stroke="#000" stroke-width="9" stroke-linecap="round" stroke-linejoin="round" stroke-dasharray="66.5 38" stroke-dashoffset="90.0"/><path d="M486.2 1878.4 C485.2 1884.5 480.9 1908.6 480.5 1915.0 C480.1 1921.4 477.4 1916.8 484.0 1917.0 C490.6 1917.2 500.7 1916.7 520.0 1916.5 C539.3 1916.3 561.7 1916.4 600.0 1916.0 C638.3 1915.6 708.3 1915.2 750.0 1914.0 C791.7 1912.8 816.7 1910.3 850.0 1909.0 C883.3 1907.7 911.7 1906.7 950.0 1906.0 C988.3 1905.3 1049.2 1906.4 1080.0 1905.0 C1110.8 1903.6 1120.3 1900.2 1135.0 1897.8 C1149.7 1895.4 1151.2 1893.7 1168.3 1890.6 C1185.4 1887.5 1220.4 1881.9 1237.4 1879.0 C1254.4 1876.1 1253.5 1876.2 1270.5 1873.3 C1287.5 1870.4 1314.7 1866.0 1339.6 1861.8 C1364.5 1857.6 1391.5 1853.0 1420.0 1848.0 C1448.5 1843.0 1495.2 1834.7 1510.3 1832.0" fill="none" stroke="#000" stroke-width="9" stroke-linecap="round" stroke-linejoin="round" stroke-dasharray="66.5 38" stroke-dashoffset="100.0"/><path d="M371.2 2551.0 C373.3 2544.7 379.6 2532.5 384.0 2513.0 C388.4 2493.5 392.3 2464.0 397.5 2434.0 C402.7 2404.0 409.0 2367.2 415.0 2333.0 C421.0 2298.8 426.9 2262.9 433.5 2228.8 C440.1 2194.7 448.3 2162.0 454.9 2128.4 C461.5 2094.8 467.8 2055.3 472.9 2027.1 C477.9 1998.8 481.2 1980.6 485.2 1958.9 C489.2 1937.2 494.1 1910.2 497.0 1897.0 C499.9 1883.8 501.4 1882.3 502.3 1879.4" fill="none" stroke="#000" stroke-width="9" stroke-linecap="round" stroke-linejoin="round" stroke-dasharray="66.5 38" stroke-dashoffset="90.0"/><path d="M502.3 1879.4 C503.9 1880.2 508.9 1881.3 512.0 1884.0 C515.1 1886.7 518.2 1891.5 521.2 1895.5 C524.2 1899.5 526.0 1904.6 530.0 1908.0 C534.0 1911.4 533.3 1914.3 545.0 1916.0 C556.7 1917.7 557.5 1917.7 600.0 1918.0 C642.5 1918.3 733.3 1917.8 800.0 1918.0 C866.7 1918.2 941.7 1918.8 1000.0 1919.0 C1058.3 1919.2 1116.7 1919.8 1150.0 1919.0 C1183.3 1918.2 1183.5 1916.8 1200.0 1914.0 C1216.5 1911.2 1229.2 1906.2 1248.9 1902.1 C1268.6 1897.9 1300.8 1892.3 1318.0 1889.1 C1335.2 1885.9 1334.6 1886.0 1351.8 1882.7 C1369.0 1879.4 1409.5 1871.6 1421.0 1869.4" fill="none" stroke="#000" stroke-width="9" stroke-linecap="round" stroke-linejoin="round" stroke-dasharray="66.5 38" stroke-dashoffset="66.5"/><path d="M371.2 2551.0 C374.2 2531.5 383.5 2470.3 389.0 2434.0 C394.5 2397.7 398.7 2367.2 404.0 2333.0 C409.3 2298.8 415.4 2262.9 421.0 2228.8 C426.6 2194.7 432.2 2162.0 437.5 2128.4 C442.8 2094.8 449.2 2054.2 453.0 2027.0 C456.8 1999.8 458.8 1981.8 460.5 1965.0 C462.2 1948.2 462.6 1932.5 463.0 1926.0" fill="none" stroke="#000" stroke-width="9" stroke-linecap="round" stroke-linejoin="round" stroke-dasharray="66.5 38" stroke-dashoffset="90.0"/><path d="M463.0 1926.0 C463.7 1924.6 460.8 1919.0 467.0 1917.5 C473.2 1916.0 488.7 1917.2 500.0 1917.0 C511.3 1916.8 526.1 1918.5 535.0 1916.0 C543.9 1913.5 546.7 1902.5 553.4 1902.0 C560.1 1901.5 567.2 1910.7 575.0 1913.0 C582.8 1915.3 579.2 1915.2 600.0 1916.0 C620.8 1916.8 633.3 1917.3 700.0 1918.0 C766.7 1918.7 910.0 1919.8 1000.0 1920.0 C1090.0 1920.2 1194.2 1919.3 1240.0 1919.0 C1285.8 1918.7 1257.2 1918.8 1274.8 1917.9 C1292.4 1917.0 1328.2 1915.1 1345.4 1913.6 C1362.6 1912.0 1360.4 1910.7 1377.8 1908.6 C1395.2 1906.5 1433.0 1903.3 1449.8 1901.1 C1466.6 1898.9 1461.8 1898.3 1478.6 1895.4 C1495.4 1892.5 1533.3 1886.7 1550.6 1883.8 C1567.9 1880.9 1565.0 1880.5 1582.3 1878.1 C1599.6 1875.7 1637.0 1871.8 1654.3 1869.4 C1671.6 1867.0 1668.7 1866.1 1686.0 1863.7 C1703.3 1861.3 1740.7 1857.4 1758.0 1855.0 C1775.3 1852.6 1772.8 1851.7 1789.6 1849.3 C1806.4 1846.9 1847.3 1842.0 1858.8 1840.6" fill="none" stroke="#000" stroke-width="9" stroke-linecap="round" stroke-linejoin="round" stroke-dasharray="66.5 38" stroke-dashoffset="4.0"/></g>
<rect x="1290.9" y="2254.7" width="975.6" height="228.9" fill="#fff" stroke="#484848" stroke-width="4" stroke-linejoin="round"/><path d="M1315.8 2311.5 H1486.8" stroke="#000" stroke-width="9.5" stroke-linecap="round" fill="none" stroke-dasharray="66.5 38"/><path d="M1315.8 2428.8 H1448.8" stroke="#000" stroke-width="9.5" stroke-linecap="round" fill="none" stroke-dasharray="28.5 38 0.01 38"/><text x="1500.0" y="2336.5" font-size="81.4" text-anchor="start" font-weight="bold" textLength="478.0" lengthAdjust="spacingAndGlyphs" >AM Ordered</text><text x="1503.0" y="2454.0" font-size="81.4" text-anchor="start" font-weight="bold" textLength="680.0" lengthAdjust="spacingAndGlyphs" >Wrought Ordered</text>
<text x="292.0" y="2580.3" font-size="81.4" text-anchor="end" font-weight="bold" textLength="48.4" lengthAdjust="spacingAndGlyphs" >0</text><text x="292.0" y="2464.5" font-size="81.4" text-anchor="end" font-weight="bold" textLength="145.2" lengthAdjust="spacingAndGlyphs" >100</text><text x="292.0" y="2348.7" font-size="81.4" text-anchor="end" font-weight="bold" textLength="145.2" lengthAdjust="spacingAndGlyphs" >200</text><text x="292.0" y="2232.8" font-size="81.4" text-anchor="end" font-weight="bold" textLength="145.2" lengthAdjust="spacingAndGlyphs" >300</text><text x="292.0" y="2117.0" font-size="81.4" text-anchor="end" font-weight="bold" textLength="145.2" lengthAdjust="spacingAndGlyphs" >400</text><text x="292.0" y="2001.2" font-size="81.4" text-anchor="end" font-weight="bold" textLength="145.2" lengthAdjust="spacingAndGlyphs" >500</text><text x="292.0" y="1885.4" font-size="81.4" text-anchor="end" font-weight="bold" textLength="145.2" lengthAdjust="spacingAndGlyphs" >600</text><text x="292.0" y="1769.5" font-size="81.4" text-anchor="end" font-weight="bold" textLength="145.2" lengthAdjust="spacingAndGlyphs" >700</text><text x="292.0" y="1653.7" font-size="81.4" text-anchor="end" font-weight="bold" textLength="145.2" lengthAdjust="spacingAndGlyphs" >800</text><text x="292.0" y="1537.9" font-size="81.4" text-anchor="end" font-weight="bold" textLength="145.2" lengthAdjust="spacingAndGlyphs" >900</text><text x="374.7" y="2698.7" font-size="81.4" text-anchor="middle" font-weight="bold" textLength="48.4" lengthAdjust="spacingAndGlyphs" >0</text><text x="796.4" y="2698.7" font-size="81.4" text-anchor="middle" font-weight="bold" textLength="48.4" lengthAdjust="spacingAndGlyphs" >1</text><text x="1220.6" y="2698.7" font-size="81.4" text-anchor="middle" font-weight="bold" textLength="48.4" lengthAdjust="spacingAndGlyphs" >2</text><text x="1644.7" y="2698.7" font-size="81.4" text-anchor="middle" font-weight="bold" textLength="48.4" lengthAdjust="spacingAndGlyphs" >3</text><text x="2068.9" y="2698.7" font-size="81.4" text-anchor="middle" font-weight="bold" textLength="48.4" lengthAdjust="spacingAndGlyphs" >4</text><text x="903.0" y="2830.5" font-size="81.4" text-anchor="start" font-weight="bold" textLength="840.0" lengthAdjust="spacingAndGlyphs" >Engineering Strain (%)</text><text x="104.8" y="2270.5" font-size="84.6" text-anchor="start" font-weight="bold" textLength="472.0" lengthAdjust="spacingAndGlyphs" transform="rotate(-90 104.8 2270.5)" >Stress (MPa)</text>
<text font-weight="normal" stroke="#000" stroke-width="1.2" stroke-linejoin="round"><tspan x="2092.9" y="1649.3" font-size="119.4" textLength="29.5" lengthAdjust="spacingAndGlyphs">(</tspan><tspan x="2132.3" y="1652.3" font-size="116" textLength="65.8" lengthAdjust="spacingAndGlyphs">b</tspan><tspan x="2205.7" y="1649.3" font-size="119.4" textLength="29.5" lengthAdjust="spacingAndGlyphs">)</tspan></text>
</g>
</g>
</svg></body></html>
